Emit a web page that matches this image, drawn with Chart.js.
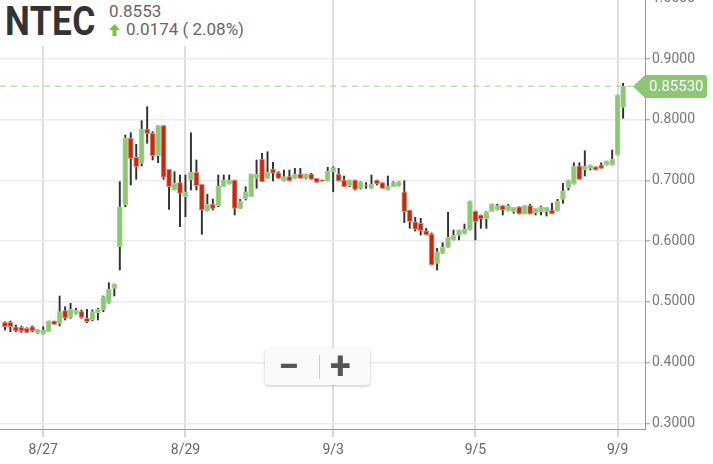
<!DOCTYPE html>
<html>
<head>
<meta charset="utf-8">
<script src="https://cdn.jsdelivr.net/npm/chart.js@4.4.0/dist/chart.umd.min.js"></script>
<style>
  html, body { margin: 0; padding: 0; background: #fff; }
  #wrap { position: relative; width: 713px; height: 464px; overflow: hidden; font-family: Roboto, sans-serif; }
  #chart { position: absolute; left: 0; top: 0; }
  #head { position: absolute; left: 0; top: 0; width: 250px; height: 46px; background: #fff; }
  #sym { position: absolute; left: 5px; top: -2px; font-size: 40px; font-weight: bold; color: #333;
         transform: scaleX(0.88); transform-origin: left top; letter-spacing: 0.5px; }
  #last { position: absolute; left: 109px; top: 1px; font-size: 17px; color: #666; }
  #chg { position: absolute; left: 109px; top: 19px; font-size: 17px; color: #666; white-space: pre; }
  #chg svg { vertical-align: -1px; margin-right: 6px; }
  #zoomBox { position: absolute; left: 265px; top: 348px; width: 105px; height: 37px; background: #fafafa;
             border-radius: 4px; box-shadow: 0 1px 3px rgba(0,0,0,0.25); }
  #zoomBox span { position: absolute; top: -3px; font-size: 38px; font-weight: bold; color: #555; line-height: 42px; }
  #zoomBox .sep { position: absolute; left: 54px; top: 7px; width: 1px; height: 24px; background: #ccc; }
</style>
</head>
<body>
<div id="wrap">
  <canvas id="chart" width="713" height="464"></canvas>
  <div id="head">
    <div id="sym">NTEC</div>
    <div id="last">0.8553</div>
    <div id="chg"><svg width="11" height="12" viewBox="0 0 11 12"><polygon points="5.5,0 11,6 7.5,6 7.5,12 3.5,12 3.5,6 0,6" fill="#7dc242"/></svg>0.0174 ( 2.08%)</div>
  </div>
  <div id="zoomBox">
    <span style="left:13px">−</span>
    <div class="sep"></div>
    <span style="left:65px">+</span>
  </div>
</div>
<script>
// 30-minute candles, 8/26 afternoon through 9/9 morning
const open = [
  0.4664, 0.4664, 0.4591, 0.4582, 0.4565, 0.4591, 0.4483,
  0.4471, 0.4509, 0.4685, 0.4647, 0.4855, 0.4746, 0.4812, 0.4839, 0.4730, 0.4702, 0.4822, 0.4867, 0.4987, 0.5224,
  0.5909, 0.6596, 0.7695, 0.7382, 0.7283, 0.7848, 0.7777, 0.7408, 0.7903, 0.7184, 0.6843, 0.6964,
  0.6733, 0.7008, 0.7135, 0.6937, 0.6497, 0.6608, 0.6585, 0.6898, 0.6942, 0.7008, 0.6542, 0.6695, 0.6733,
  0.7036, 0.7354, 0.7036, 0.7189, 0.7128, 0.6992, 0.7063, 0.7036, 0.7107, 0.7036, 0.7107, 0.7036, 0.7008, 0.6992,
  0.7145, 0.7102, 0.7008, 0.6914, 0.7008, 0.6871, 0.6909, 0.6871, 0.7008, 0.6964, 0.6843, 0.6898, 0.6909,
  0.6815, 0.6514, 0.6321, 0.6295, 0.6173, 0.6119, 0.5636, 0.5801, 0.5899, 0.6020, 0.6097, 0.6119, 0.6184,
  0.6497, 0.6432, 0.6366, 0.6486, 0.6514, 0.6585, 0.6497, 0.6486, 0.6568, 0.6448, 0.6585, 0.6469, 0.6486,
  0.6486, 0.6514, 0.6497, 0.6690, 0.6881, 0.6942, 0.7239, 0.7173, 0.7201, 0.7227, 0.7255, 0.7255, 0.7255,
  0.7420, 0.8206
];
const high = [
  0.4674, 0.4685, 0.4619, 0.4603, 0.4575, 0.4603, 0.4549,
  0.4591, 0.4685, 0.4685, 0.5097, 0.4921, 0.4977, 0.4895, 0.4867, 0.4878, 0.4867, 0.4895, 0.5097, 0.5316, 0.5295,
  0.6980, 0.7750, 0.7787, 0.7596, 0.7985, 0.8216, 0.7804, 0.7903, 0.7903, 0.7184, 0.7145, 0.7091,
  0.7091, 0.7787, 0.7338, 0.6937, 0.6773, 0.6695, 0.7091, 0.7091, 0.7091, 0.7008, 0.6690, 0.6898, 0.7107,
  0.7338, 0.7448, 0.7474, 0.7300, 0.7145, 0.7173, 0.7173, 0.7201, 0.7201, 0.7107, 0.7119, 0.7036, 0.7008, 0.7217,
  0.7227, 0.7201, 0.7074, 0.7008, 0.7008, 0.6980, 0.6964, 0.7091, 0.7008, 0.6964, 0.7074, 0.6980, 0.6980,
  0.6997, 0.6514, 0.6394, 0.6377, 0.6212, 0.6135, 0.5883, 0.5975, 0.6476, 0.6184, 0.6184, 0.6283, 0.6662,
  0.6497, 0.6432, 0.6486, 0.6613, 0.6608, 0.6585, 0.6608, 0.6558, 0.6568, 0.6585, 0.6608, 0.6542, 0.6580,
  0.6558, 0.6624, 0.6690, 0.6954, 0.7008, 0.7293, 0.7293, 0.7491, 0.7255, 0.7227, 0.7293, 0.7321, 0.7502,
  0.8408, 0.8601
];
const low = [
  0.4537, 0.4509, 0.4509, 0.4499, 0.4493, 0.4509, 0.4483,
  0.4471, 0.4509, 0.4631, 0.4603, 0.4702, 0.4730, 0.4801, 0.4730, 0.4657, 0.4690, 0.4702, 0.4839, 0.4977, 0.5097,
  0.5525, 0.6568, 0.6926, 0.7020, 0.7239, 0.7613, 0.7338, 0.7293, 0.7020, 0.6525, 0.6843, 0.6239,
  0.6404, 0.6843, 0.6843, 0.6114, 0.6497, 0.6514, 0.6568, 0.6898, 0.6942, 0.6432, 0.6542, 0.6679, 0.6733,
  0.6871, 0.6980, 0.7036, 0.6992, 0.7036, 0.6992, 0.6992, 0.7036, 0.7036, 0.7025, 0.7020, 0.6970, 0.6992, 0.6992,
  0.6815, 0.6992, 0.6898, 0.6898, 0.6843, 0.6860, 0.6871, 0.6871, 0.6926, 0.6871, 0.6843, 0.6898, 0.6909,
  0.6305, 0.6212, 0.6168, 0.6102, 0.6102, 0.5608, 0.5525, 0.5801, 0.5899, 0.6020, 0.6020, 0.6119, 0.6184,
  0.6020, 0.6212, 0.6212, 0.6486, 0.6514, 0.6432, 0.6497, 0.6460, 0.6448, 0.6448, 0.6448, 0.6432, 0.6432,
  0.6415, 0.6448, 0.6497, 0.6624, 0.6843, 0.6942, 0.7020, 0.7074, 0.7173, 0.7173, 0.7201, 0.7255, 0.7255,
  0.7420, 0.8025
];
const close = [
  0.4591, 0.4591, 0.4521, 0.4521, 0.4499, 0.4526, 0.4549,
  0.4537, 0.4685, 0.4631, 0.4839, 0.4730, 0.4878, 0.4867, 0.4746, 0.4674, 0.4839, 0.4878, 0.5086, 0.5208, 0.5295,
  0.6568, 0.7705, 0.7366, 0.7227, 0.7848, 0.7777, 0.7408, 0.7903, 0.7053, 0.6898, 0.6954, 0.6789,
  0.6815, 0.7135, 0.6914, 0.6514, 0.6608, 0.6542, 0.6909, 0.7008, 0.7008, 0.6542, 0.6662, 0.6815, 0.7107,
  0.7107, 0.6980, 0.7135, 0.7119, 0.7036, 0.7063, 0.6992, 0.7107, 0.7036, 0.7107, 0.7020, 0.6970, 0.6992, 0.7156,
  0.7211, 0.6992, 0.6898, 0.7008, 0.6855, 0.6980, 0.6926, 0.6942, 0.6942, 0.6871, 0.6909, 0.6964, 0.6980,
  0.6486, 0.6321, 0.6196, 0.6173, 0.6102, 0.5608, 0.5827, 0.5899, 0.6064, 0.6097, 0.6184, 0.6196, 0.6662,
  0.6321, 0.6366, 0.6486, 0.6613, 0.6585, 0.6514, 0.6585, 0.6558, 0.6448, 0.6585, 0.6448, 0.6542, 0.6568,
  0.6558, 0.6448, 0.6662, 0.6832, 0.7008, 0.7239, 0.7020, 0.7239, 0.7255, 0.7173, 0.7201, 0.7321, 0.7349,
  0.8408, 0.8553
];

// day labels sit on the first candle of each day
const tickIdx = [7, 33, 60, 86, 112];
const tickLabels = ['8/27', '8/29', '9/3', '9/5', '9/9'];
const yTicks = [0.3, 0.4, 0.5, 0.6, 0.7, 0.8, 0.9, 1.0];
const lastPrice = 0.8553;

const upColor = '#8cc873';
const upBorder = '#a8d696';
const downColor = '#c12b10';
const downBorder = '#e58a78';

const idx = open.map((_, i) => i);
const isUp = idx.map(i => close[i] >= open[i]);

// etiqueta de precio a la derecha
const priceTag = {
  id: 'priceTag',
  afterDraw(chart) {
    const { ctx, chartArea, scales: { y } } = chart;
    const py = Math.round(y.getPixelForValue(lastPrice)) + 0.5;
    const tip = chartArea.right - 12;
    const x1 = chartArea.right;
    const x2 = chartArea.right + 62;
    const h = 11.5;
    ctx.save();
    ctx.fillStyle = upColor;
    ctx.beginPath();
    ctx.moveTo(tip, py);
    ctx.lineTo(x1, py - h);
    ctx.lineTo(x2 - 3, py - h);
    ctx.quadraticCurveTo(x2, py - h, x2, py - h + 3);
    ctx.lineTo(x2, py + h - 3);
    ctx.quadraticCurveTo(x2, py + h, x2 - 3, py + h);
    ctx.lineTo(x1, py + h);
    ctx.closePath();
    ctx.fill();
    ctx.fillStyle = '#fff';
    ctx.font = '15px Roboto';
    ctx.textAlign = 'left';
    ctx.textBaseline = 'middle';
    ctx.fillText(lastPrice.toFixed(5), x1 + 4, py + 1);
    ctx.restore();
  }
};

const xMin = -0.9;
const xMax = 117;

new Chart(document.getElementById('chart'), {
  type: 'bar',
  data: {
    datasets: [
      {
        type: 'line',
        data: [{ x: xMin, y: lastPrice }, { x: xMax, y: lastPrice }],
        borderColor: '#a3d390',
        borderWidth: 1,
        borderDash: [6, 5],
        pointRadius: 0,
        order: 0
      },
      {
        data: idx.map(i => ({ x: i, y: [Math.min(open[i], close[i]), Math.max(open[i], close[i])] })),
        backgroundColor: idx.map(i => isUp[i] ? upColor : downColor),
        borderColor: idx.map(i => isUp[i] ? upBorder : downBorder),
        borderWidth: 1,
        borderSkipped: false,
        barThickness: 5,
        grouped: false,
        order: 1
      },
      {
        data: idx.map(i => ({ x: i, y: [low[i], high[i]] })),
        backgroundColor: '#2f3336',
        barThickness: 1.3,
        grouped: false,
        order: 2
      }
    ]
  },
  options: {
    responsive: false,
    animation: false,
    layout: { padding: 0 },
    plugins: {
      legend: { display: false },
      tooltip: { enabled: false }
    },
    scales: {
      x: {
        type: 'linear',
        min: xMin,
        max: xMax,
        offset: false,
        afterBuildTicks: s => { s.ticks = tickIdx.map(v => ({ value: v })); },
        ticks: {
          callback: (v, i) => tickLabels[i],
          color: '#666',
          font: { family: 'Roboto', size: 14 },
          padding: 5,
          maxRotation: 0,
          autoSkip: false
        },
        grid: { offset: false, color: '#dedede', lineWidth: 2, tickLength: 8, tickColor: '#aaa', tickWidth: 1 },
        border: { color: '#9a9a9a', width: 1 },
        afterFit: s => { s.height = 35; }
      },
      y: {
        position: 'right',
        min: 0.2906,
        max: 0.9974,
        afterBuildTicks: s => { s.ticks = yTicks.map(v => ({ value: v })); },
        ticks: {
          callback: v => v.toFixed(4),
          color: '#777',
          font: { family: 'Roboto', size: 14 },
          padding: 2,
          autoSkip: false
        },
        grid: { color: '#ebebeb', lineWidth: 1.5, tickLength: 5, tickColor: '#999', tickWidth: 1 },
        border: { color: '#9a9a9a', width: 1 },
        afterFit: s => { s.width = 68; s.paddingTop = 0; s.paddingBottom = 0; }
      }
    }
  },
  plugins: [priceTag]
});
</script>
</body>
</html>
